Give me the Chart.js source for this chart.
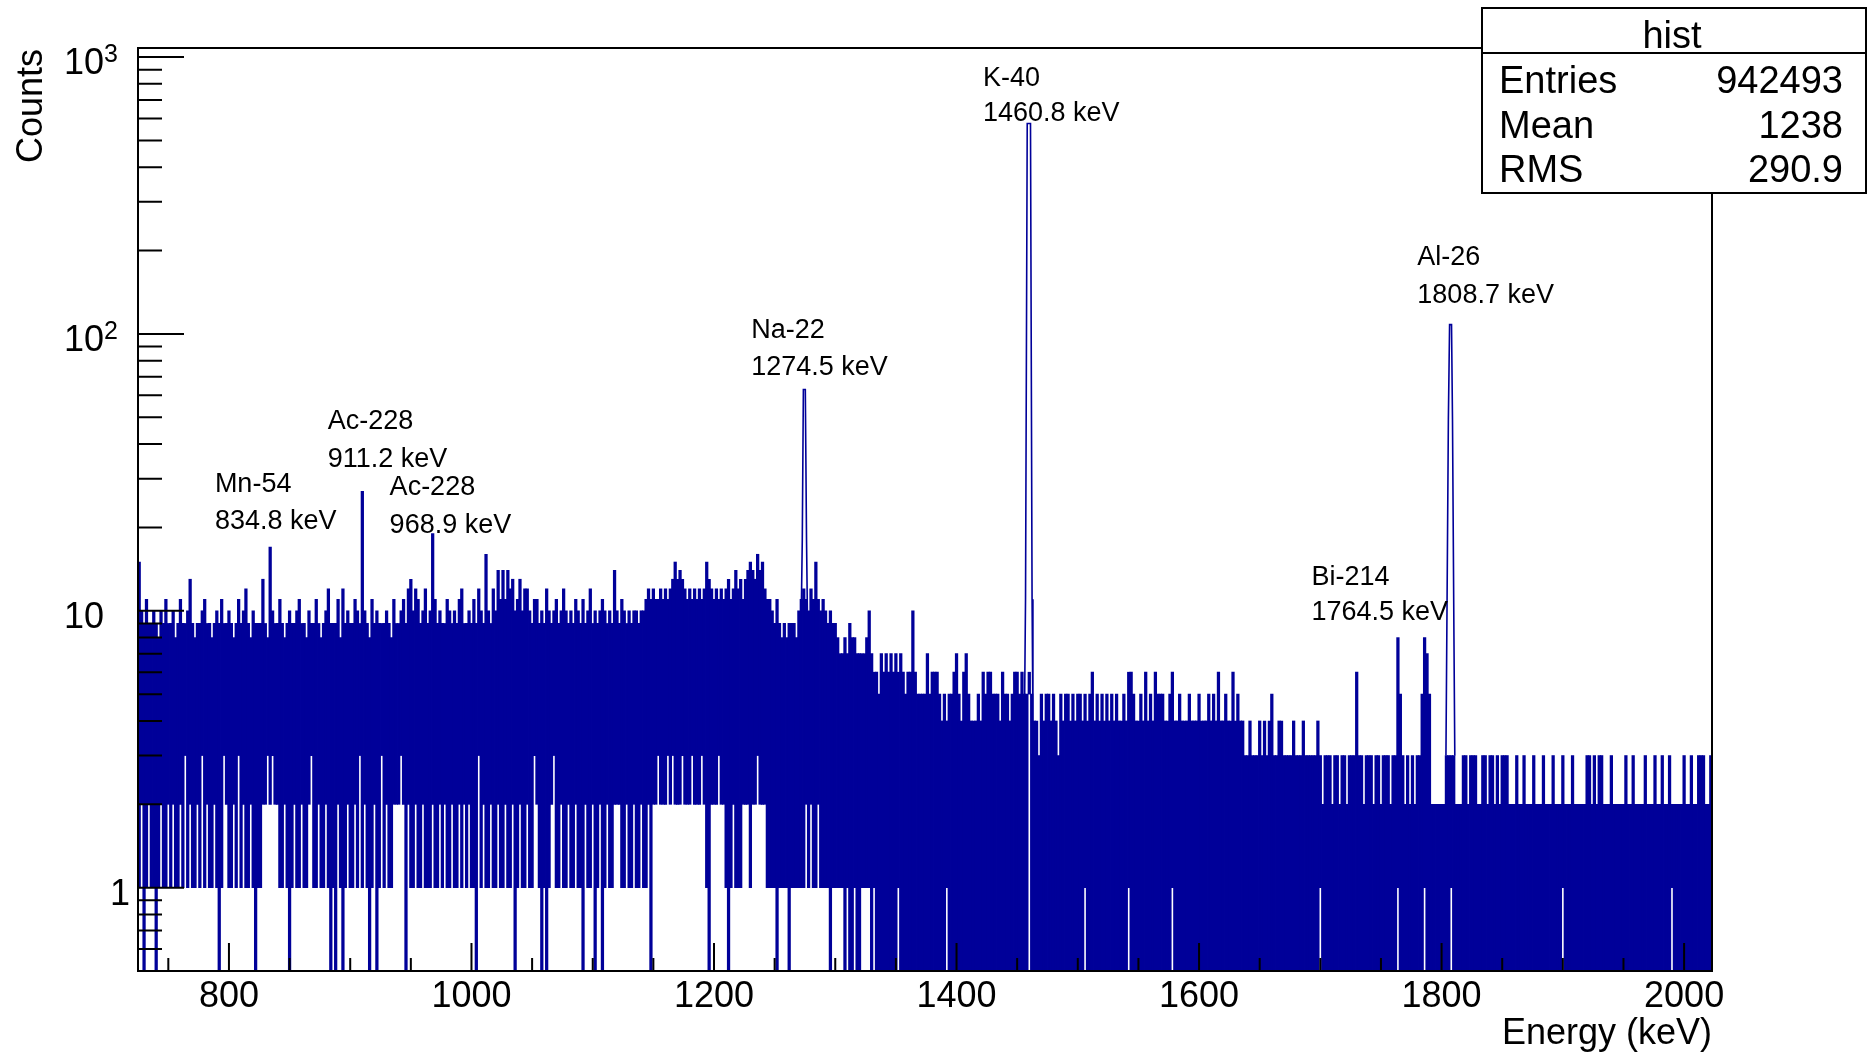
<!DOCTYPE html>
<html>
<head>
<meta charset="utf-8">
<title>hist</title>
<script src="https://cdn.jsdelivr.net/npm/chart.js@4.4.1/dist/chart.umd.min.js"></script>
<style>
  html, body { margin: 0; padding: 0; background: #fff; }
  #chart { display: block; }
</style>
</head>
<body>
<canvas id="chart" width="1868" height="1055"></canvas>
<script>
// Histogram read as 2 keV columns, first column centred on 726 keV
const bin_first = 726;
const bin_width = 2;

// Highest count reached inside each column (one line = 100 keV)
const counts_high = [
  15,10,9,11,9,9,10,9,8,10, 9,11,9,9,10,8,9,11,9,9, 10,13,9,8,9,9,10,11,9,9, 8,9,10,9,11,9,9,10,9,8, 9,11,9,10,12,9,8,10,9,9,
  9,13,9,8,17,10,9,9,11,9, 8,9,10,9,9,10,11,9,9,8, 10,9,9,11,9,8,9,10,12,9, 9,9,11,8,12,9,10,9,9,11, 10,9,27,10,9,8,11,9,10,9,
  9,9,10,9,8,11,9,9,10,11, 9,12,13,10,12,11,9,10,12,9, 10,19,11,9,10,9,9,11,10,9, 10,9,11,12,9,9,10,9,11,9, 12,10,9,16,10,9,12,10,14,11,
  14,11,14,12,13,10,11,13,10,12, 12,10,9,11,11,9,10,9,12,10, 9,10,11,9,10,12,10,9,10,9, 11,10,9,11,9,10,12,9,10,9, 10,11,10,9,10,9,14,10,9,11,
  10,9,10,9,10,10,9,10,10,11, 12,11,12,11,11,12,11,12,11,12, 13,15,13,14,13,12,11,12,11,12, 11,12,11,12,15,13,12,11,12,11, 12,11,12,13,11,12,14,12,13,11,
  13,14,15,14,13,16,14,15,12,11, 11,10,9,11,9,8,9,8,9,9, 9,8,10,11,12,11,10,12,11,15, 11,10,11,10,9,10,9,9,8,7, 7,8,7,9,8,8,7,7,7,7,
  8,10,7,6,6,5,7,6,7,6, 7,6,7,6,7,6,5,6,6,10, 6,5,5,5,5,7,5,6,6,6, 5,4,5,4,5,5,6,7,5,4, 6,7,5,4,4,4,5,4,6,5,
  6,6,5,5,5,4,6,5,5,4, 5,6,6,5,6,5,5,6,5,4, 4,3,5,4,5,5,4,5,4,3, 5,4,5,5,4,5,4,5,5,4, 5,4,5,6,4,5,4,5,4,5,
  4,5,4,5,4,4,5,4,6,6, 5,4,4,5,4,6,4,5,4,6, 5,5,5,4,4,5,6,4,4,5, 4,4,4,5,4,4,4,5,4,4, 4,5,4,5,4,6,4,4,5,4,
  4,6,4,5,4,4,3,3,4,3, 3,3,4,3,4,3,4,5,3,3, 4,4,3,3,3,3,4,3,3,3, 4,3,3,3,3,3,4,3,2,3, 3,3,2,3,3,2,3,3,2,3,
  3,3,6,3,3,2,3,3,3,2, 3,3,2,3,3,3,2,3,3,8, 5,3,2,3,2,3,2,3,3,5, 8,7,5,2,2,2,2,2,2,3, 3,3,3,2,2,2,3,3,2,3,
  3,3,2,2,3,3,2,3,3,2, 3,2,3,3,3,2,2,2,3,2, 2,3,2,2,2,3,2,2,2,3, 2,2,2,3,2,2,2,3,2,2, 2,3,2,2,2,2,2,3,3,2,
  3,2,3,3,2,2,2,3,2,2, 2,2,2,3,2,2,3,2,2,2, 2,3,2,2,2,3,2,2,3,2, 2,3,2,2,2,2,2,3,2,2, 3,2,2,3,3,3,2,2,3
];

// Lowest count reached inside each column (0 = empty bin, drawn down to the axis)
const counts_low = [
  1,2,0,1,2,1,1,0,1,2, 1,1,2,1,2,1,1,2,1,3, 1,2,1,1,2,1,3,1,2,1, 1,2,1,0,1,3,2,1,1,2, 1,3,1,2,1,1,2,1,0,1,
  1,2,2,3,2,3,2,2,1,1, 2,1,0,1,2,1,1,2,1,1, 2,3,1,1,2,1,1,2,1,0, 1,0,2,1,0,1,2,1,1,2, 1,3,1,2,1,0,1,2,0,1,
  3,1,2,1,1,2,2,2,3,2, 0,2,1,1,2,1,1,2,1,1, 1,2,1,1,2,1,2,1,1,2, 1,1,2,1,2,1,2,1,1,0, 3,1,2,1,1,2,1,1,2,1,
  1,2,1,1,2,0,1,2,1,1, 2,1,1,3,2,1,0,1,0,1, 2,3,1,1,2,1,1,2,1,1, 2,1,1,0,2,1,1,2,0,1, 2,0,1,2,1,1,2,2,2,1,
  1,2,1,1,2,1,1,2,1,1, 2,0,2,2,3,2,2,2,3,2, 3,2,2,2,3,2,2,2,3,2, 2,2,3,2,1,0,2,2,2,3, 2,2,1,0,1,2,1,1,1,2,
  2,2,1,2,2,3,2,2,2,1, 1,1,1,0,1,1,1,1,0,1, 1,1,1,1,1,2,1,2,1,1, 2,1,1,1,1,0,1,1,1,1, 1,0,1,0,0,1,0,0,1,1,
  1,1,0,1,0,0,0,0,0,0, 0,0,0,1,0,0,0,0,0,0, 0,0,0,0,0,0,0,0,0,0, 0,0,0,1,0,0,0,0,0,0, 0,0,0,0,0,0,0,0,0,0,
  0,0,0,0,0,0,0,0,0,0, 0,0,0,0,0,0,0,5,0,0, 0,0,0,0,0,0,0,0,0,0, 0,0,0,0,0,0,0,0,0,0, 1,0,0,0,0,0,0,0,0,0,
  0,0,0,0,0,0,0,0,1,0, 0,0,0,0,0,0,0,0,0,0, 0,0,0,0,0,0,1,0,0,0, 0,0,0,0,0,0,0,0,0,0, 0,0,0,0,0,0,0,0,0,0,
  0,0,0,0,0,0,0,0,0,0, 0,0,0,0,0,0,0,0,0,0, 0,0,0,0,0,0,0,0,0,0, 0,0,0,0,0,0,0,1,0,0, 0,0,0,0,0,0,0,0,0,0,
  0,0,0,0,0,0,0,0,0,0, 0,0,0,0,0,0,0,0,0,1, 0,0,0,0,0,0,0,0,0,0, 1,0,0,0,0,0,0,0,0,0, 0,1,0,0,0,0,0,0,0,0,
  0,0,0,0,0,0,0,0,0,0, 0,0,0,0,0,0,0,0,0,0, 0,0,0,0,0,0,0,0,0,0, 0,0,0,0,0,0,0,1,0,0, 0,0,0,0,0,0,0,0,0,0,
  0,0,0,0,0,0,0,0,0,0, 0,0,0,0,0,0,0,0,0,0, 0,0,0,0,0,0,0,0,0,0, 0,0,1,0,0,0,0,0,0,0, 0,0,0,0,0,0,0,0,0
];

// Outlines of the three big peaks
const na22_energy = [1272.0, 1272.8, 1273.7, 1275.3, 1276.3, 1277.0];
const na22_counts = [10, 18, 63, 63, 18, 10];
const k40_energy = [1456.0, 1456.9, 1458.3, 1461.0, 1462.3, 1463.0];
const k40_counts = [4, 11, 575, 575, 11, 4];
const al26_energy = [1803.6, 1804.3, 1805.6, 1806.6, 1808.2, 1809.0, 1810.2, 1810.9];
const al26_counts = [3, 8, 49, 108, 108, 49, 8, 3];

// Axes
const x_min = 725;
const x_max = 2023;
const y_min = 0.5;
const y_max = 1078;
const x_major_ticks = [800, 1000, 1200, 1400, 1600, 1800, 2000];
const x_minor_ticks = [750, 850, 900, 950, 1050, 1100, 1150, 1250, 1300, 1350, 1450, 1500, 1550, 1650, 1700, 1750, 1850, 1900, 1950];
const y_major_ticks = [1, 10, 100, 1000];
const y_minor_ticks = [0.6, 0.7, 0.8, 0.9, 2, 3, 4, 5, 6, 7, 8, 9, 20, 30, 40, 50, 60, 70, 80, 90, 200, 300, 400, 500, 600, 700, 800, 900];

// Peak labels: name line and energy line, anchored in data units
const label_names = ['Mn-54', 'Ac-228', 'Ac-228', 'Na-22', 'K-40', 'Bi-214', 'Al-26'];
const label_energies = ['834.8 keV', '911.2 keV', '968.9 keV', '1274.5 keV', '1460.8 keV', '1764.5 keV', '1808.7 keV'];
const label_x = [788.4, 881.5, 932.5, 1230.7, 1421.8, 1692.7, 1780];
const label_y_name = [26.9, 45.4, 26.2, 96.7, 786, 12.4, 177.5];
const label_y_energy = [19.8, 33.1, 19.1, 71.1, 585, 9.28, 129.7];

// Statistics box
const stat_title = 'hist';
const stat_names = ['Entries', 'Mean', 'RMS'];
const stat_values = ['942493', '1238', '290.9'];

const hist_color = '#000099';
const font_family = "'Liberation Sans', Arial, Helvetica, sans-serif";


// Build the column bars, empty bins go down to the axis floor
var band_points = [];
for (var i = 0; i < counts_high.length; i++) {
    var low = counts_low[i] || 0;
    band_points.push({x: bin_first + i * bin_width, y: [Math.max(low, y_min), counts_high[i]]});
}

function outline(energy, counts) {
    var pts = [];
    for (var i = 0; i < energy.length; i++) {
        pts.push({x: energy[i], y: counts[i]});
    }
    return pts;
}


// Frame, ticks, texts and stats box in the ROOT style
const root_style = {
    id: 'root_style',
    beforeDraw(chart) {
        const ctx = chart.ctx;
        ctx.save();
        ctx.fillStyle = '#fff';
        ctx.fillRect(0, 0, chart.width, chart.height);
        ctx.restore();
    },
    afterDatasetsDraw(chart) {
        const ctx = chart.ctx;
        const area = chart.chartArea;
        const xs = chart.scales.x;
        const ys = chart.scales.y;

        ctx.save();
        ctx.strokeStyle = '#000';
        ctx.fillStyle = '#000';
        ctx.lineWidth = 2;

        // frame
        ctx.strokeRect(area.left, area.top, area.right - area.left, area.bottom - area.top);

        // tick marks, pointing inside
        ctx.beginPath();
        x_major_ticks.forEach(v => {
            const px = xs.getPixelForValue(v);
            ctx.moveTo(px, area.bottom);
            ctx.lineTo(px, area.bottom - 28);
        });
        x_minor_ticks.forEach(v => {
            const px = xs.getPixelForValue(v);
            ctx.moveTo(px, area.bottom);
            ctx.lineTo(px, area.bottom - 13);
        });
        y_major_ticks.forEach(v => {
            const py = ys.getPixelForValue(v);
            ctx.moveTo(area.left, py);
            ctx.lineTo(area.left + 46, py);
        });
        y_minor_ticks.forEach(v => {
            const py = ys.getPixelForValue(v);
            ctx.moveTo(area.left, py);
            ctx.lineTo(area.left + 24, py);
        });
        ctx.stroke();

        // y tick labels: 1, 10, 10^2, 10^3
        ctx.textBaseline = 'alphabetic';
        y_major_ticks.forEach(v => {
            const py = ys.getPixelForValue(v);
            ctx.font = '36px ' + font_family;
            if (v === 1) {
                ctx.textAlign = 'right';
                ctx.fillText('1', 130, py + 17);
            } else if (v === 10) {
                ctx.textAlign = 'left';
                ctx.fillText('10', 64, py + 17);
            } else {
                ctx.textAlign = 'left';
                ctx.fillText('10', 64, py + 17);
                const w = ctx.measureText('10').width;
                ctx.font = '25px ' + font_family;
                ctx.fillText(String(Math.round(Math.log10(v))), 64 + w, py + 5);
            }
        });

        // axis titles
        ctx.font = '36px ' + font_family;
        ctx.textAlign = 'right';
        ctx.fillText('Energy (keV)', area.right, 1044);
        ctx.save();
        ctx.translate(42, area.top + 1);
        ctx.rotate(-Math.PI / 2);
        ctx.textAlign = 'right';
        ctx.fillText('Counts', 0, 0);
        ctx.restore();

        // peak labels
        ctx.font = '27px ' + font_family;
        ctx.textAlign = 'left';
        for (var i = 0; i < label_names.length; i++) {
            const px = xs.getPixelForValue(label_x[i]);
            ctx.fillText(label_names[i], px, ys.getPixelForValue(label_y_name[i]));
            ctx.fillText(label_energies[i], px, ys.getPixelForValue(label_y_energy[i]));
        }

        // statistics box
        const bx = 1482, by = 8, bw = 384, bh = 185;
        ctx.fillStyle = '#fff';
        ctx.fillRect(bx, by, bw, bh);
        ctx.strokeRect(bx, by, bw, bh);
        ctx.beginPath();
        ctx.moveTo(bx, 53);
        ctx.lineTo(bx + bw, 53);
        ctx.stroke();
        ctx.fillStyle = '#000';
        ctx.font = '38px ' + font_family;
        ctx.textAlign = 'center';
        ctx.fillText(stat_title, 1672, 48);
        const rows = [93, 137.5, 182];
        for (var r = 0; r < stat_names.length; r++) {
            ctx.textAlign = 'left';
            ctx.fillText(stat_names[r], 1499, rows[r]);
            ctx.textAlign = 'right';
            ctx.fillText(stat_values[r], 1843, rows[r]);
        }

        ctx.restore();
    }
};


const ctx = document.getElementById('chart');

new Chart(ctx, {
    type: 'bar',
    data: {
        datasets: [
            {
                type: 'bar',
                data: band_points,
                backgroundColor: hist_color,
                borderWidth: 0,
                barThickness: 2.6,
                grouped: false
            },
            {
                type: 'line',
                data: outline(na22_energy, na22_counts),
                borderColor: hist_color,
                borderWidth: 1.6,
                pointRadius: 0,
                tension: 0,
                fill: false
            },
            {
                type: 'line',
                data: outline(k40_energy, k40_counts),
                borderColor: hist_color,
                borderWidth: 1.6,
                pointRadius: 0,
                tension: 0,
                fill: false
            },
            {
                type: 'line',
                data: outline(al26_energy, al26_counts),
                borderColor: hist_color,
                borderWidth: 1.6,
                pointRadius: 0,
                tension: 0,
                fill: false
            }
        ]
    },
    options: {
        responsive: false,
        animation: false,
        devicePixelRatio: 1,
        events: [],
        layout: {
            padding: {left: 138, top: 48, right: 156, bottom: 0}
        },
        plugins: {
            legend: {display: false},
            tooltip: {enabled: false}
        },
        scales: {
            x: {
                type: 'linear',
                min: x_min,
                max: x_max,
                offset: false,
                grid: {display: false, drawTicks: false},
                border: {display: false},
                afterBuildTicks: scale => {
                    scale.ticks = x_major_ticks.map(v => ({value: v}));
                },
                afterFit: scale => {
                    scale.height = 84;
                },
                ticks: {
                    autoSkip: false,
                    maxRotation: 0,
                    padding: 4,
                    color: '#000',
                    font: {family: font_family, size: 36},
                    callback: value => String(value)
                }
            },
            y: {
                type: 'logarithmic',
                display: false,
                min: y_min,
                max: y_max
            }
        }
    },
    plugins: [root_style]
});
</script>
</body>
</html>
